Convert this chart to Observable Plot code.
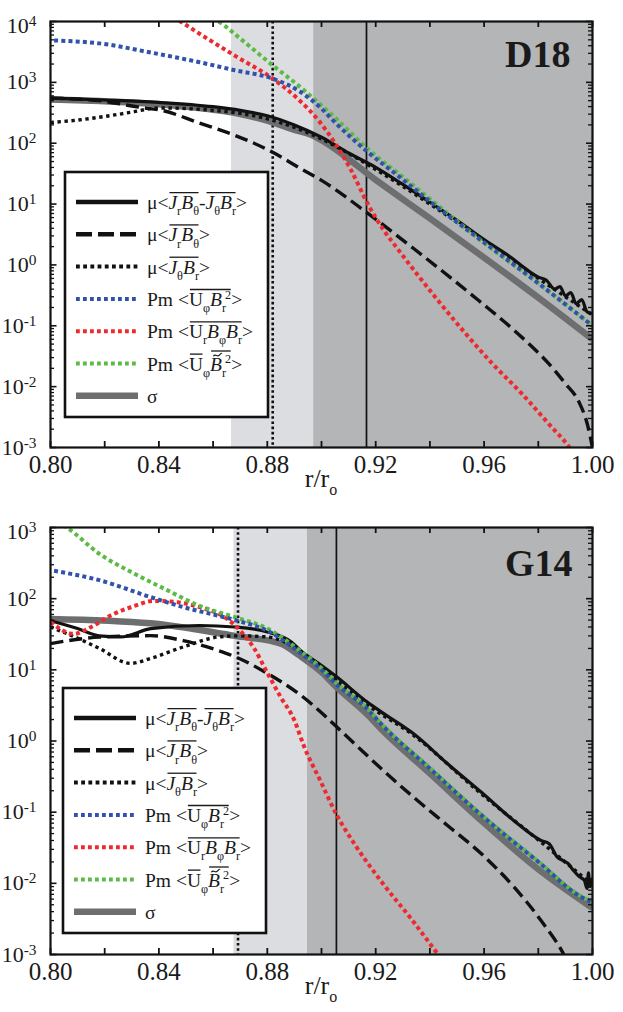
<!DOCTYPE html>
<html>
<head>
<meta charset="utf-8">
<script src="https://cdn.jsdelivr.net/npm/d3@7"></script>
<script src="https://cdn.jsdelivr.net/npm/@observablehq/plot@0.6"></script>
<style>
html,body{margin:0;padding:0;background:#fff;}
#chart svg{display:block;}
</style>
</head>
<body>
<div id="chart"></div>
<script>
const FONT = "'Liberation Serif','Times New Roman',Times,serif";

// ---------------- shared axis data ----------------
const xDomain = [0.80, 1.00];
const xTickLabels = [0.80, 0.84, 0.88, 0.92, 0.96, 1.00];
const xTicksAll = [0.80, 0.82, 0.84, 0.86, 0.88, 0.90, 0.92, 0.94, 0.96, 0.98, 1.00];

// ---------------- D18 ----------------
const d18Label = "D18";
const d18YDomain = [1e-3, 1e4];
const d18Decades = [1e-3, 1e-2, 1e-1, 1e0, 1e1, 1e2, 1e3, 1e4];
const d18Bands = [{x1: 0.8668, x2: 0.8971, band: "light"}, {x1: 0.8971, x2: 1.00, band: "dark"}];
const d18DottedRule = [0.882];
const d18SolidRule = [0.9166];

const d18TotalX = [0.800,0.820,0.840,0.860,0.870,0.880,0.890,0.900,0.910,0.920,0.930,0.940,0.950,0.960,0.970,0.976,0.980,0.983,0.986,0.988,0.990,0.992,0.994,0.996,0.998,1.000];
const d18TotalY = [550,513,468,398,347,282,200,126,69,40,21,10.7,5.4,2.6,1.32,0.82,0.63,0.56,0.40,0.44,0.31,0.35,0.23,0.27,0.17,0.16];

const d18JrBthX = [0.800,0.818,0.833,0.841,0.855,0.868,0.882,0.892,0.900,0.917,0.934,0.958,0.971,0.986,0.990,0.995,0.998,1.000];
const d18JrBthY = [550,500,389,347,214,135,71,39,24.5,7.1,1.86,0.26,0.085,0.0186,0.0112,0.0056,0.0025,0.001];

const d18JthBrX = [0.800,0.810,0.820,0.830,0.840,0.860,0.880,0.890,0.900,0.920,0.940,0.960,0.980,0.990,1.000];
const d18JthBrY = [219,240,275,324,380,347,251,182,117,37,10,2.5,0.60,0.30,0.15];

const d18SigmaX = [0.800,0.840,0.860,0.870,0.880,0.890,0.897,0.900,0.920,0.940,0.960,0.980,1.000];
const d18SigmaY = [525,437,355,302,234,166,132,112,25,5.8,1.32,0.29,0.060];

const d18BlueX = [0.800,0.818,0.837,0.855,0.868,0.882,0.892,0.900,0.905,0.917,0.929,0.941,0.954,0.963,0.980,1.000];
const d18BlueY = [4900,4370,3090,2140,1580,1150,708,370,219,72,27.5,10.2,3.7,1.86,0.50,0.10];

const d18RedX = [0.843,0.848,0.855,0.868,0.882,0.892,0.899,0.905,0.911,0.917,0.923,0.928,0.943,0.953,0.963,0.974,0.984,0.9915,0.993];
const d18RedY = [13800,10000,6300,2750,1150,500,234,100,35.5,10.2,3.7,1.86,0.26,0.076,0.024,0.0076,0.0024,0.001,0.0008];

const d18GreenX = [0.852,0.862,0.870,0.882,0.892,0.900,0.905,0.917,0.930,0.941,0.960,0.980,1.000];
const d18GreenY = [14100,10000,5250,1900,850,417,263,81,28,11.2,2.3,0.50,0.10];

// ---------------- G14 ----------------
const g14Label = "G14";
const g14YDomain = [1e-3, 1e3];
const g14Decades = [1e-3, 1e-2, 1e-1, 1e0, 1e1, 1e2, 1e3];
const g14Bands = [{x1: 0.8677, x2: 0.8948, band: "light"}, {x1: 0.8948, x2: 1.00, band: "dark"}];
const g14DottedRule = [0.8692];
const g14SolidRule = [0.9055];

const g14TotalX = [0.800,0.810,0.818,0.826,0.837,0.855,0.868,0.880,0.889,0.892,0.900,0.905,0.917,0.922,0.934,0.9465,0.959,0.971,0.981,0.984,0.987,0.989,0.991,0.993,0.995,0.997,0.998,0.9985,0.999,1.000];
const g14TotalY = [49,38,30,29,38,42,40,34,24.5,19,11.5,8.3,3.5,2.57,1.26,0.48,0.19,0.076,0.040,0.036,0.0234,0.021,0.019,0.0151,0.0125,0.011,0.0085,0.014,0.009,0.012];

const g14JrBthX = [0.800,0.818,0.837,0.849,0.862,0.869,0.880,0.892,0.900,0.905,0.912,0.922,0.934,0.9465,0.959,0.971,0.981,0.9894,0.992];
const g14JrBthY = [23.4,28.8,30.2,25.7,18.6,14.8,8.9,4.5,2.5,1.66,0.93,0.41,0.162,0.065,0.026,0.0089,0.0030,0.001,0.00063];

const g14JthBrX = [0.800,0.812,0.818,0.8295,0.837,0.849,0.862,0.869,0.880,0.889,0.900,0.917,0.934,0.959,0.981,1.000];
const g14JthBrY = [40,25.7,20,12.3,14.5,21,29,30,29,22,10.5,3.2,1.2,0.18,0.038,0.0095];

const g14SigmaX = [0.800,0.837,0.868,0.885,0.892,0.900,0.905,0.917,0.922,0.940,0.959,0.980,1.000];
const g14SigmaY = [52,45,30,23.4,15.8,9.3,6.0,2.34,1.48,0.35,0.076,0.0158,0.0045];

const g14BlueX = [0.800,0.818,0.837,0.849,0.862,0.869,0.880,0.892,0.900,0.905,0.917,0.922,0.940,0.959,0.980,0.9957,1.000];
const g14BlueY = [251,182,105,76,57.5,49,35.5,17.4,10,6.5,2.8,1.74,0.41,0.091,0.020,0.0065,0.0054];

const g14RedX = [0.800,0.8085,0.815,0.822,0.831,0.838,0.847,0.855,0.865,0.870,0.875,0.880,0.885,0.890,0.8935,0.8995,0.9055,0.913,0.922,0.933,0.943];
const g14RedY = [47,32,40,57.5,79,93,89,76,52.5,35.5,20.4,9.1,4.1,1.95,0.85,0.28,0.093,0.032,0.0107,0.0032,0.001];

const g14GreenX = [0.800,0.806,0.818,0.831,0.843,0.855,0.868,0.880,0.892,0.900,0.905,0.917,0.922,0.940,0.959,0.980,0.9957,1.000];
const g14GreenY = [1350,1000,427,224,132,79,55,38,18.6,10.5,6.8,2.85,1.76,0.42,0.092,0.0203,0.0066,0.0055];

// ---------------- legend labels ----------------
const legendKeys = ["total", "jr", "jth", "blue", "red", "green", "sigma"];
const legendLabels = [
  [{t:"μ<"},{t:"J",it:1,o:"a"},{t:"r",sub:1,o:"a"},{t:"B",it:1,o:"a"},{t:"θ",sub:1,o:"a"},{t:"-"},{t:"J",it:1,o:"b"},{t:"θ",sub:1,o:"b"},{t:"B",it:1,o:"b"},{t:"r",sub:1,o:"b"},{t:">"}],
  [{t:"μ<"},{t:"J",it:1,o:"a"},{t:"r",sub:1,o:"a"},{t:"B",it:1,o:"a"},{t:"θ",sub:1,o:"a"},{t:">"}],
  [{t:"μ<"},{t:"J",it:1,o:"a"},{t:"θ",sub:1,o:"a"},{t:"B",it:1,o:"a"},{t:"r",sub:1,o:"a"},{t:">"}],
  [{t:"Pm <"},{t:"U",o:"a"},{t:"φ",sub:1,o:"a"},{t:"B",it:1,o:"a"},{t:"r",sub:1,o:"a"},{t:"2",sup:1,o:"a",dx:-1},{t:">"}],
  [{t:"Pm <"},{t:"U",o:"a"},{t:"r",sub:1,o:"a"},{t:"B",it:1,o:"a"},{t:"φ",sub:1,o:"a"},{t:"B",it:1,o:"a"},{t:"r",sub:1,o:"a"},{t:">"}],
  [{t:"Pm <"},{t:"U",o:"a"},{t:"φ",sub:1},{t:"B",it:1,o:"b",tilde:1},{t:"r",sub:1,o:"b"},{t:"2",sup:1,o:"b",dx:-1},{t:">"}],
  [{t:"σ"}]
];

// ---------------- styles ----------------
const lineStyles = {
  sigma: {stroke: "#6d6e70", strokeWidth: 6.5},
  jr:    {stroke: "#111111", strokeWidth: 3.4, strokeDasharray: "13,6"},
  jth:   {stroke: "#111111", strokeWidth: 3.4, strokeDasharray: "3.4,3.6"},
  total: {stroke: "#111111", strokeWidth: 3.2},
  red:   {stroke: "#ee2a2e", strokeWidth: 4, strokeDasharray: "4,3.2"},
  green: {stroke: "#5cbb45", strokeWidth: 4, strokeDasharray: "4,3.2"},
  blue:  {stroke: "#3152aa", strokeWidth: 4, strokeDasharray: "4,3.2", strokeDashoffset: 3.6}
};
const legendStyles = {
  total: {stroke: "#111", width: 4.5},
  jr:    {stroke: "#111", width: 4.5, dash: "16,6"},
  jth:   {stroke: "#111", width: 4, dash: "3.8,3.4"},
  blue:  {stroke: "#3152aa", width: 4, dash: "3.8,3.2"},
  red:   {stroke: "#ee2a2e", width: 4, dash: "3.8,3.2"},
  green: {stroke: "#5cbb45", width: 4, dash: "3.8,3.2"},
  sigma: {stroke: "#6d6e70", width: 6.5}
};

const rows = (xs, ys) => xs.map((x, i) => ({x, y: ys[i]}));

function richText(g, x, y, parts, fs) {
  let cx = x;
  const groups = {};
  for (const p of parts) {
    const small = p.sub || p.sup;
    const size = small ? fs * 0.63 : fs;
    const yy = y + (p.sub ? fs * 0.32 : p.sup ? -fs * 0.36 : 0);
    const px = cx + (p.dx || 0);
    const t = g.append("text")
      .attr("x", px).attr("y", yy)
      .attr("text-anchor", "start")
      .attr("font-size", size).attr("font-family", FONT)
      .attr("font-style", p.it ? "italic" : "normal")
      .attr("fill", "#1a1a1a")
      .text(p.t);
    const w = t.node().getComputedTextLength();
    if (p.o) {
      const gr = groups[p.o] || (groups[p.o] = {x1: px, x2: px + w, hi: false});
      gr.x2 = px + w;
      if (p.tilde) gr.hi = true;
    }
    if (p.tilde) {
      // small tilde accent drawn as a path above the glyph
      const tx = px + w / 2 + 1.5, ty = y - fs * 0.78, hw = 4.2, a = 1.6;
      g.append("path")
        .attr("d", `M${tx - hw},${ty + a * 0.6} C${tx - hw * 0.5},${ty - a * 1.4} ${tx},${ty + a * 1.6} ${tx + hw * 0.5},${ty - a * 0.2} S${tx + hw},${ty - a * 0.9} ${tx + hw},${ty - a * 0.9}`)
        .attr("fill", "none").attr("stroke", "#1a1a1a").attr("stroke-width", 1.2);
    }
    cx = px + w;
  }
  for (const k in groups) {
    const gr = groups[k];
    const oy = y - fs * (gr.hi ? 1.0 : 0.84);
    g.append("line").attr("x1", gr.x1 + 1).attr("x2", gr.x2 - 0.5)
      .attr("y1", oy).attr("y2", oy).attr("stroke", "#1a1a1a").attr("stroke-width", 1.3);
  }
}

function panel(cfg) {
  const W = 623, ml = 50, mr = 31;
  const fw = W - ml - mr;
  const fh = cfg.height - cfg.mt - cfg.mb;
  const minors = [];
  cfg.decades.forEach(d => { if (d < cfg.yDomain[1]) for (let k = 2; k <= 9; k++) minors.push(k * d); });

  const lineMark = (key, xs, ys) => Plot.line(rows(xs, ys), {
    x: "x", y: "y", curve: "monotone-x", clip: true, strokeLinecap: "butt", strokeLinejoin: "round",
    ...lineStyles[key]
  });

  const svg = Plot.plot({
    width: W, height: cfg.height,
    marginLeft: ml, marginRight: mr, marginTop: cfg.mt, marginBottom: cfg.mb,
    style: {fontFamily: FONT, background: "transparent", overflow: "visible", color: "#1a1a1a"},
    x: {domain: xDomain},
    y: {type: "log", domain: cfg.yDomain},
    marks: [
      Plot.rect(cfg.bands.filter(b => b.band === "light"), {x1: "x1", x2: "x2", y1: cfg.yDomain[0], y2: cfg.yDomain[1], fill: "#dcdde0"}),
      Plot.rect(cfg.bands.filter(b => b.band === "dark"), {x1: "x1", x2: "x2", y1: cfg.yDomain[0], y2: cfg.yDomain[1], fill: "#b4b5b7"}),
      Plot.ruleX(cfg.dotted, {stroke: "#111", strokeWidth: 2.6, strokeDasharray: "2.6,2.6"}),
      Plot.ruleX(cfg.solid, {stroke: "#111", strokeWidth: 1.7}),
      lineMark("sigma", cfg.s.sigma[0], cfg.s.sigma[1]),
      lineMark("jr", cfg.s.jr[0], cfg.s.jr[1]),
      lineMark("jth", cfg.s.jth[0], cfg.s.jth[1]),
      lineMark("total", cfg.s.total[0], cfg.s.total[1]),
      lineMark("red", cfg.s.red[0], cfg.s.red[1]),
      lineMark("green", cfg.s.green[0], cfg.s.green[1]),
      lineMark("blue", cfg.s.blue[0], cfg.s.blue[1]),
      // inward ticks
      Plot.ruleX(xTicksAll, {insetTop: fh - 6, stroke: "#111", strokeWidth: 1.8}),
      Plot.ruleX(xTicksAll, {insetBottom: fh - 6, stroke: "#111", strokeWidth: 1.8}),
      Plot.ruleY(cfg.decades, {insetRight: fw - 6.5, stroke: "#111", strokeWidth: 1.6}),
      Plot.ruleY(minors, {insetRight: fw - 4, stroke: "#111", strokeWidth: 1.3}),
      Plot.ruleY(cfg.decades, {insetLeft: fw - 6, stroke: "#111", strokeWidth: 1.6}),
      Plot.ruleY(minors, {insetLeft: fw - 4, stroke: "#111", strokeWidth: 1.3}),
      Plot.frame({stroke: "#111", strokeWidth: 2.2}),
      Plot.axisX(xTickLabels, {tickSize: 0, tickPadding: 8, fontSize: 25, tickFormat: d3.format(".2f"), label: null}),
      Plot.axisY(cfg.decades, {tickSize: 0, tickPadding: 14, fontSize: 22, tickFormat: d => `10^${Math.round(Math.log10(d))}`, label: null}),
      Plot.text([cfg.label], {text: d => d, frameAnchor: "top-right", lineAnchor: "top", dx: cfg.labelDx, dy: cfg.labelDy, fontSize: 38, fontWeight: "bold", fill: "#1a1a1a"})
    ]
  });
  document.getElementById("chart").appendChild(svg);
  const S = d3.select(svg);

  // superscript exponents on y tick labels
  const topExp = Math.round(Math.log10(cfg.yDomain[1]));
  S.selectAll('[aria-label="y-axis tick label"] text').each(function () {
    const s = this.textContent;
    if (!s.includes("^")) return;
    const [base, exp] = s.split("^");
    const t = d3.select(this);
    t.text(null);
    if (+exp === topExp) t.attr("y", "0.52em");
    t.append("tspan").text(base);
    t.append("tspan").attr("dy", "-0.45em").attr("font-size", "0.7em").text(exp);
  });

  // x axis label r/r_o
  const lab = S.append("text")
    .attr("x", ml + fw / 2).attr("y", cfg.mt + fh + 40)
    .attr("text-anchor", "middle").attr("font-family", FONT)
    .attr("font-size", 26).attr("fill", "#1a1a1a");
  lab.append("tspan").text("r/r");
  lab.append("tspan").attr("font-size", 16).attr("dy", 8).text("o");

  // legend box
  const g = S.append("g").attr("text-anchor", "start");
  const x0 = ml + cfg.legDx, y0 = cfg.mt + cfg.legDy;
  g.append("rect").attr("x", x0).attr("y", y0).attr("width", 203).attr("height", 245)
    .attr("fill", "white").attr("stroke", "#111").attr("stroke-width", 2.6);
  legendKeys.forEach((key, i) => {
    const cy = y0 + 30 + i * 32.3;
    const st = legendStyles[key];
    g.append("line").attr("x1", x0 + 11).attr("x2", x0 + 73).attr("y1", cy).attr("y2", cy)
      .attr("stroke", st.stroke).attr("stroke-width", st.width)
      .attr("stroke-dasharray", st.dash || null);
    richText(g, x0 + 82, cy + 7, legendLabels[i], 19.5);
  });
}

panel({
  height: 500, mt: 21, mb: 53,
  yDomain: d18YDomain, decades: d18Decades, bands: d18Bands,
  dotted: d18DottedRule, solid: d18SolidRule, label: d18Label, labelDx: -22, labelDy: 19,
  legDx: 15, legDy: 151,
  s: {
    total: [d18TotalX, d18TotalY], jr: [d18JrBthX, d18JrBthY], jth: [d18JthBrX, d18JthBrY],
    sigma: [d18SigmaX, d18SigmaY], blue: [d18BlueX, d18BlueY], red: [d18RedX, d18RedY], green: [d18GreenX, d18GreenY]
  }
});
panel({
  height: 512, mt: 27, mb: 58,
  yDomain: g14YDomain, decades: g14Decades, bands: g14Bands,
  dotted: g14DottedRule, solid: g14SolidRule, label: g14Label, labelDx: -20, labelDy: 22,
  legDx: 13, legDy: 161,
  s: {
    total: [g14TotalX, g14TotalY], jr: [g14JrBthX, g14JrBthY], jth: [g14JthBrX, g14JthBrY],
    sigma: [g14SigmaX, g14SigmaY], blue: [g14BlueX, g14BlueY], red: [g14RedX, g14RedY], green: [g14GreenX, g14GreenY]
  }
});
</script>
</body>
</html>
